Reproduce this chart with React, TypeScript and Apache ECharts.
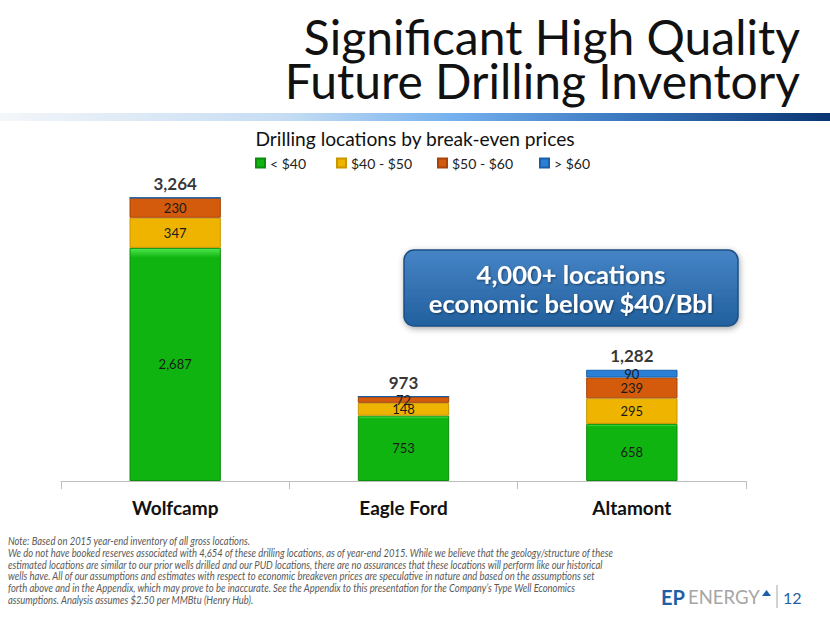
import React, { useEffect, useRef } from "react";
import * as echarts from "echarts";

const categories = ["Wolfcamp", "Eagle Ford", "Altamont"];
const seriesNames = ["< $40", "$40 - $50", "$50 - $60", "> $60"];
const below40 = [2687, 753, 658];
const from40to50 = [347, 148, 295];
const from50to60 = [230, 72, 239];
const above60 = [0, 0, 90];

const titleLines = ["Significant High Quality", "Future Drilling Inventory"];
const subtitle = "Drilling locations by break-even prices";
const calloutLines = ["4,000+ locations", "economic below $40/Bbl"];
const noteLines = [
  "Note: Based on 2015 year-end inventory of all gross locations.",
  "We do not have booked reserves associated with 4,654 of these drilling locations, as of year-end 2015. While we believe that the geology/structure of these",
  "estimated locations are similar to our prior wells drilled and our PUD locations, there are no assurances that these locations will perform like our historical",
  "wells have. All of our assumptions and estimates with respect to economic breakeven prices are speculative in nature and based on the assumptions set",
  "forth above and in the Appendix, which may prove to be inaccurate. See the Appendix to this presentation for the Company\u2019s Type Well Economics",
  "assumptions. Analysis assumes $2.50 per MMBtu (Henry Hub).",
];
const pageNumber = "12";

const FONT = "Lato, 'Open Sans', sans-serif";

const fmt = (v: number) => v.toLocaleString("en-US");

export default function App() {
  const ref = useRef<HTMLDivElement>(null);
  useEffect(() => {
    document.body.style.margin = "0";
    const chart = echarts.init(ref.current!, undefined, { renderer: "svg" });
    const allSeries = [below40, from40to50, from50to60, above60];
    const totals = categories.map((_, i) => allSeries.reduce((s, arr) => s + arr[i], 0));
    const colors = [
      ["#4ee84e", "#10b410", "#0b8f0b"],
      ["#ffe24a", "#eeb400", "#c99500"],
      ["#f08a3a", "#d45a0c", "#a84408"],
      ["#5aaaf0", "#2a80d6", "#1b5fa8"],
    ];
    const barSeries = allSeries.map((data, k) => ({
      name: seriesNames[k],
      type: "bar",
      stack: "total",
      barWidth: "40%",
      data,
      itemStyle: {
        color: new echarts.graphic.LinearGradient(0, 0, 0, 1, [
          { offset: 0, color: colors[k][0] },
          { offset: 0.04, color: colors[k][1] },
          { offset: 1, color: colors[k][1] },
        ]),
        borderColor: colors[k][2],
        borderWidth: 1,
      },
      label: {
        show: true,
        position: "inside",
        color: "#1a1a1a",
        fontFamily: FONT,
        fontSize: 13,
        formatter: (p: any) => (p.value ? fmt(p.value) : ""),
      },
    }));
    const legendX = [255, 336, 437, 539];
    chart.setOption({
      animation: false,
      grid: { left: 61, right: 84, top: 160, bottom: 142 },
      legend: seriesNames.map((n, k) => ({
        data: [n],
        left: legendX[k],
        top: 156,
        padding: 0,
        itemWidth: 9,
        itemHeight: 9,
        itemGap: 4,
        icon: "rect",
        textStyle: { fontFamily: FONT, fontSize: 14, color: "#222" },
      })),
      xAxis: {
        type: "category",
        data: categories,
        axisLine: { lineStyle: { color: "#bfbfbf", width: 1 } },
        axisTick: { show: true, alignWithLabel: false, length: 8, lineStyle: { color: "#bfbfbf" } },
        axisLabel: {
          margin: 17,
          fontFamily: FONT,
          fontWeight: "bold",
          fontSize: 19,
          color: "#111",
        },
      },
      yAxis: { type: "value", min: 0, max: 3700, show: false, splitLine: { show: false } },
      series: [
        ...barSeries,
        {
          name: "Total",
          type: "scatter",
          data: totals,
          symbolSize: 0,
          silent: true,
          label: {
            show: true,
            position: "top",
            distance: 6,
            fontFamily: FONT,
            fontWeight: "bold",
            fontSize: 17,
            color: "#000",
            formatter: (p: any) => fmt(p.value),
          },
        },
      ],
      graphic: [
        {
          type: "text",
          right: 30,
          top: 12,
          style: {
            text: titleLines[0],
            fontFamily: FONT,
            fontSize: 48,
            lineHeight: 42,
            fill: "#111",
            textAlign: "right",
          },
        },
        {
          type: "text",
          right: 30,
          top: 56,
          style: {
            text: titleLines[1],
            fontFamily: FONT,
            fontSize: 48,
            lineHeight: 42,
            fill: "#111",
            textAlign: "right",
          },
        },
        {
          type: "rect",
          shape: { x: 0, y: 113, width: 830, height: 8 },
          style: {
            fill: new echarts.graphic.LinearGradient(0, 0, 1, 0, [
              { offset: 0, color: "#f4f6f9" },
              { offset: 0.35, color: "#c4dcf3" },
              { offset: 0.55, color: "#74b0ee" },
              { offset: 0.75, color: "#3a78c0" },
              { offset: 1, color: "#0a3572" },
            ]),
          },
        },
        {
          type: "text",
          x: 415,
          y: 138,
          style: {
            text: subtitle,
            fontFamily: FONT,
            fontSize: 19.2,
            fill: "#111",
            textAlign: "center",
            textVerticalAlign: "middle",
          },
        },
        {
          type: "rect",
          shape: { x: 404, y: 250, width: 334, height: 76, r: 10 },
          style: {
            fill: new echarts.graphic.LinearGradient(0, 0, 0, 1, [
              { offset: 0, color: "#4684c6" },
              { offset: 1, color: "#22609e" },
            ]),
            stroke: "#1c4f86",
            lineWidth: 1.5,
            shadowBlur: 6,
            shadowColor: "rgba(0,0,0,0.35)",
            shadowOffsetX: 1,
            shadowOffsetY: 2,
          },
        },
        {
          type: "text",
          x: 571,
          y: 288,
          style: {
            text: calloutLines.join("\n"),
            fontFamily: FONT,
            fontWeight: "bold",
            fontSize: 25.5,
            lineHeight: 29,
            fill: "#ffffff",
            textAlign: "center",
            textVerticalAlign: "middle",
            textShadowColor: "rgba(0,0,0,0.45)",
            textShadowBlur: 2,
            textShadowOffsetX: 1,
            textShadowOffsetY: 1,
          },
        },
        {
          type: "text",
          x: 8,
          y: 535,
          scaleX: 0.9,
          style: {
            text: noteLines.join("\n"),
            fontFamily: FONT,
            fontStyle: "italic",
            fontSize: 10.5,
            lineHeight: 11.8,
            fill: "#595959",
          },
        },
        {
          type: "text",
          x: 661,
          y: 597,
          style: {
            text: "EP",
            fontFamily: FONT,
            fontWeight: "bold",
            fontSize: 20,
            fill: "#1f5fa8",
            textVerticalAlign: "middle",
          },
        },
        {
          type: "text",
          x: 688,
          y: 597,
          style: {
            text: "ENERGY",
            fontFamily: FONT,
            fontSize: 18.5,
            fill: "#a6a6a6",
            textVerticalAlign: "middle",
          },
        },
        {
          type: "polygon",
          shape: { points: [[762, 596], [766.5, 590], [771, 596]] },
          style: { fill: "#1f5fa8" },
        },
        {
          type: "line",
          shape: { x1: 777, y1: 585, x2: 777, y2: 608 },
          style: { stroke: "#a6a6a6", lineWidth: 1 },
        },
        {
          type: "text",
          x: 783,
          y: 597,
          style: {
            text: pageNumber,
            fontFamily: FONT,
            fontSize: 16,
            fill: "#1f5fa8",
            textVerticalAlign: "middle",
          },
        },
      ],
    });
    return () => chart.dispose();
  }, []);
  return <div ref={ref} style={{ width: 830, height: 623 }} />;
}
